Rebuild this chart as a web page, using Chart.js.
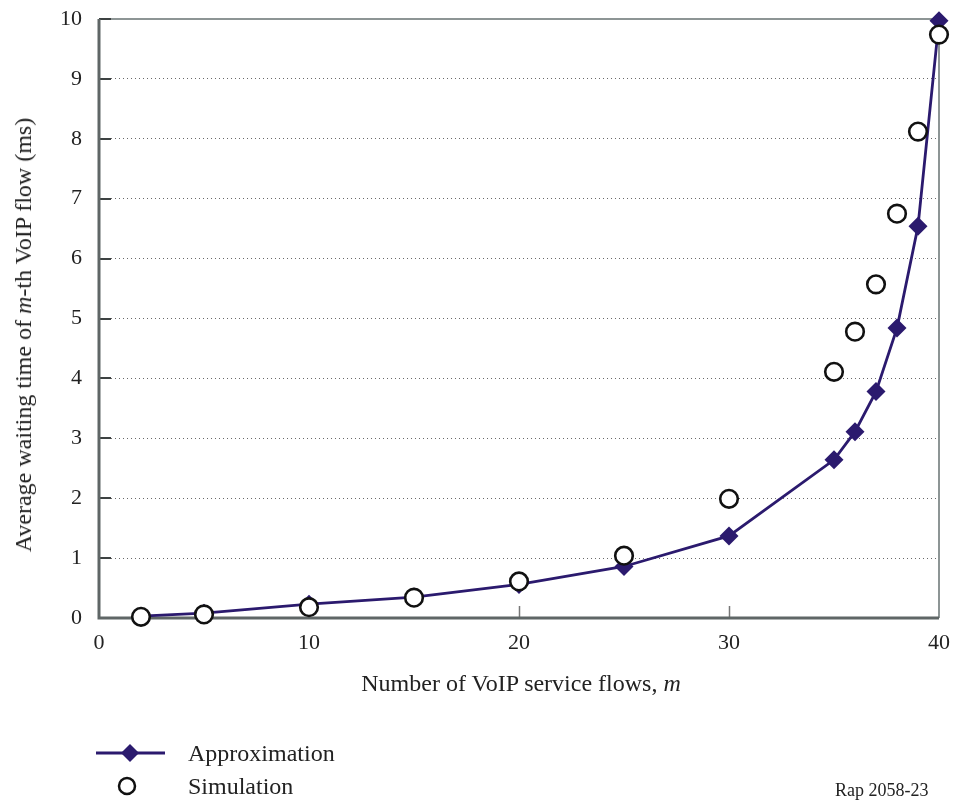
<!DOCTYPE html>
<html>
<head>
<meta charset="utf-8">
<script src="https://cdn.jsdelivr.net/npm/chart.js@4.4.1/dist/chart.umd.min.js"></script>
<style>
  html, body { margin: 0; padding: 0; background: #fff; }
  #wrap { position: relative; width: 956px; height: 804px; font-family: "Liberation Serif", "Times New Roman", serif; color: #222; }
  #chart { position: absolute; left: 0; top: 0; }
  .lbl { position: absolute; white-space: nowrap; font-size: 24px; line-height: 1; }
  #ytitle { left: 23px; top: 335px; transform: translate(-50%, -50%) rotate(-90deg); }
  #xtitle { left: 521px; top: 683px; transform: translate(-50%, -50%); }
  .leg { position: absolute; left: 188px; font-size: 24px; line-height: 1; transform: translateY(-50%); }
  .legsym { position: absolute; }
  #note { position: absolute; left: 835px; top: 790px; font-size: 18px; line-height: 1; transform: translateY(-50%); }
</style>
</head>
<body>
<div id="wrap">
  <canvas id="chart" width="956" height="804"></canvas>
  <div class="lbl" id="ytitle">Average waiting time of <i>m</i>-th VoIP flow (ms)</div>
  <div class="lbl" id="xtitle">Number of VoIP service flows, <i>m</i></div>
  <svg class="legsym" style="left:90px;top:740px" width="80" height="60">
    <line x1="6" y1="13" x2="75" y2="13" stroke="#2b1a6e" stroke-width="3"/>
    <polygon points="40,4 49,13 40,22 31,13" fill="#2b1a6e"/>
    <circle cx="37" cy="46" r="8" fill="#fff" stroke="#111" stroke-width="2.5"/>
  </svg>
  <div class="leg" style="top:753px">Approximation</div>
  <div class="leg" style="top:786px">Simulation</div>
  <div id="note">Rap 2058-23</div>
</div>
<script>
// Number of VoIP service flows
const flows = [2, 5, 10, 15, 20, 25, 30, 35, 36, 37, 38, 39, 40];
// Average waiting time of the m-th flow (ms)
const approximation = [0.03, 0.08, 0.23, 0.35, 0.56, 0.86, 1.37, 2.64, 3.11, 3.78, 4.84, 6.54, 9.97];
const simulation    = [0.02, 0.06, 0.18, 0.34, 0.61, 1.04, 1.99, 4.11, 4.78, 5.57, 6.75, 8.12, 9.74];
const xTicks = [0, 10, 20, 30, 40];
const yTicks = [0, 1, 2, 3, 4, 5, 6, 7, 8, 9, 10];

const NAVY = '#2b1a6e';

// Frame and inward tick marks, drawn under the data markers
const framePlugin = {
  id: 'frame',
  beforeDatasetsDraw(chart) {
    const { ctx, chartArea: a, scales } = chart;
    ctx.save();
    // inner ticks on the y axis
    ctx.strokeStyle = '#3d4242';
    ctx.lineWidth = 2;
    yTicks.forEach(v => {
      if (v === 0) return;
      const y = Math.round(scales.y.getPixelForValue(v));
      ctx.beginPath(); ctx.moveTo(a.left, y); ctx.lineTo(a.left + 12, y); ctx.stroke();
    });
    // inner ticks on the x axis
    ctx.strokeStyle = '#777';
    ctx.lineWidth = 1.5;
    xTicks.forEach(v => {
      if (v === 0 || v === 40) return;
      const x = Math.round(scales.x.getPixelForValue(v)) + 0.5;
      ctx.beginPath(); ctx.moveTo(x, a.bottom); ctx.lineTo(x, a.bottom - 12); ctx.stroke();
    });
    // top and right border
    ctx.strokeStyle = '#8d9595';
    ctx.lineWidth = 2;
    ctx.beginPath();
    ctx.moveTo(a.left + 12, a.top); ctx.lineTo(a.right, a.top); ctx.lineTo(a.right, a.bottom);
    ctx.stroke();
    // left and bottom axes
    ctx.strokeStyle = '#5f6666';
    ctx.lineWidth = 3;
    ctx.beginPath();
    ctx.moveTo(a.left, a.top); ctx.lineTo(a.left, a.bottom); ctx.lineTo(a.right, a.bottom);
    ctx.stroke();
    ctx.restore();
  }
};

new Chart(document.getElementById('chart'), {
  type: 'scatter',
  data: {
    datasets: [
      {
        label: 'Approximation',
        data: flows.map((m, i) => ({ x: m, y: approximation[i] })),
        showLine: true,
        borderColor: NAVY,
        borderWidth: 2.8,
        backgroundColor: NAVY,
        pointStyle: 'rectRot',
        pointRadius: 9.5,
        pointBorderWidth: 0,
        pointBackgroundColor: NAVY,
        tension: 0,
        clip: false,
        order: 2
      },
      {
        label: 'Simulation',
        data: flows.map((m, i) => ({ x: m, y: simulation[i] })),
        showLine: false,
        pointStyle: 'circle',
        pointRadius: 8.8,
        pointBorderWidth: 2.6,
        pointBorderColor: '#111',
        pointBackgroundColor: '#fff',
        clip: false,
        order: 1
      }
    ]
  },
  options: {
    responsive: false,
    animation: false,
    layout: { padding: { left: 0, right: 17, top: 19, bottom: 126 } },
    plugins: { legend: { display: false }, tooltip: { enabled: false } },
    scales: {
      x: {
        type: 'linear',
        min: 0, max: 40,
        afterBuildTicks(scale) { scale.ticks = xTicks.map(v => ({ value: v })); },
        afterFit(scale) {
          scale.height = 60;
          scale.paddingLeft = 0; scale.paddingRight = 0;
          scale.paddingTop = 0; scale.paddingBottom = 0;
        },
        border: { display: false },
        grid: { display: false, drawTicks: false },
        ticks: {
          color: '#222',
          padding: 12,
          maxRotation: 0,
          font: { family: 'Liberation Serif', size: 22 }
        }
      },
      y: {
        type: 'linear',
        min: 0, max: 10,
        afterBuildTicks(scale) { scale.ticks = yTicks.map(v => ({ value: v })); },
        afterFit(scale) {
          scale.width = 99;
          scale.paddingLeft = 0; scale.paddingRight = 0;
          scale.paddingTop = 0; scale.paddingBottom = 0;
        },
        border: { display: false, dash: [1, 3] },
        grid: {
          drawTicks: false,
          color: ctx => (ctx.tick && (ctx.tick.value === 0 || ctx.tick.value === 10)) ? 'rgba(0,0,0,0)' : '#6a6a6a',
          lineWidth: 1
        },
        ticks: {
          color: '#222',
          padding: 17,
          font: { family: 'Liberation Serif', size: 22 }
        }
      }
    }
  },
  plugins: [framePlugin]
});
</script>
</body>
</html>
